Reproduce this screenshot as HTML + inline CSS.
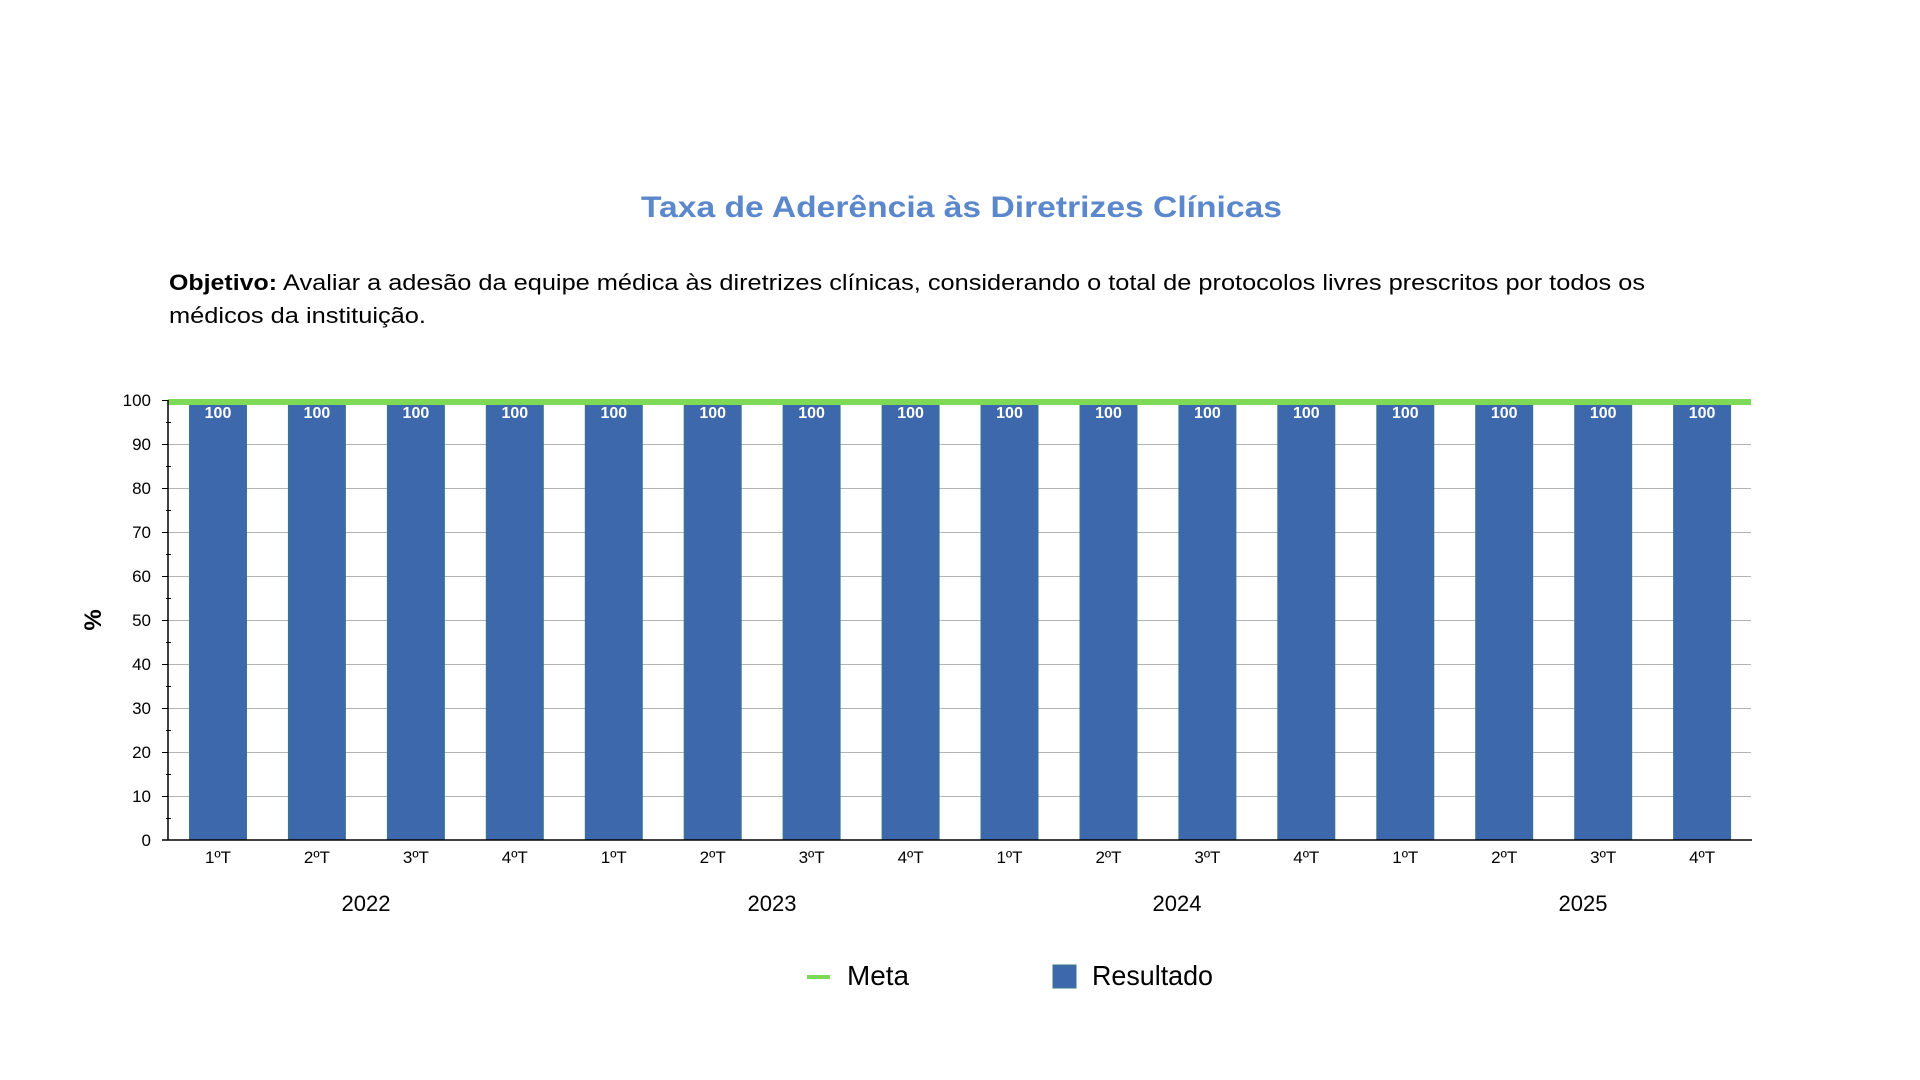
<!DOCTYPE html>
<html>
<head>
<meta charset="utf-8">
<style>
html,body{margin:0;padding:0;background:#fff;}
svg{display:block;}
text{font-family:"Liberation Sans",Arial,sans-serif;}
</style>
</head>
<body>
<svg width="1920" height="1080" viewBox="0 0 1920 1080" xmlns="http://www.w3.org/2000/svg">
<rect width="1920" height="1080" fill="#ffffff"/>
<!-- Title -->
<text x="641" y="217" font-size="30" font-weight="bold" fill="#5b87cc" textLength="641" lengthAdjust="spacingAndGlyphs">Taxa de Aderência às Diretrizes Clínicas</text>
<!-- Objective -->
<text x="169" y="290" font-size="22" font-weight="bold" fill="#000" textLength="108" lengthAdjust="spacingAndGlyphs">Objetivo:</text>
<text x="283" y="290" font-size="22" fill="#000" textLength="1362" lengthAdjust="spacingAndGlyphs">Avaliar a adesão da equipe médica às diretrizes clínicas, considerando o total de protocolos livres prescritos por todos os</text>
<text x="169" y="323" font-size="22" fill="#000" textLength="257" lengthAdjust="spacingAndGlyphs">médicos da instituição.</text>

<!-- gridlines -->
<g stroke="#b4b4b4" stroke-width="1">
<line x1="168" y1="444.5" x2="1751" y2="444.5"/>
<line x1="168" y1="488.5" x2="1751" y2="488.5"/>
<line x1="168" y1="532.5" x2="1751" y2="532.5"/>
<line x1="168" y1="576.5" x2="1751" y2="576.5"/>
<line x1="168" y1="620.5" x2="1751" y2="620.5"/>
<line x1="168" y1="664.5" x2="1751" y2="664.5"/>
<line x1="168" y1="708.5" x2="1751" y2="708.5"/>
<line x1="168" y1="752.5" x2="1751" y2="752.5"/>
<line x1="168" y1="796.5" x2="1751" y2="796.5"/>
</g>

<!-- bars -->
<g fill="#3d68ac" stroke="#3a7688" stroke-width="1">
<rect x="189.5" y="400" width="57" height="440"/>
<rect x="288.4" y="400" width="57" height="440"/>
<rect x="387.4" y="400" width="57" height="440"/>
<rect x="486.3" y="400" width="57" height="440"/>
<rect x="585.3" y="400" width="57" height="440"/>
<rect x="684.2" y="400" width="57" height="440"/>
<rect x="783.1" y="400" width="57" height="440"/>
<rect x="882.1" y="400" width="57" height="440"/>
<rect x="981.0" y="400" width="57" height="440"/>
<rect x="1080.0" y="400" width="57" height="440"/>
<rect x="1178.9" y="400" width="57" height="440"/>
<rect x="1277.8" y="400" width="57" height="440"/>
<rect x="1376.8" y="400" width="57" height="440"/>
<rect x="1475.7" y="400" width="57" height="440"/>
<rect x="1574.7" y="400" width="57" height="440"/>
<rect x="1673.6" y="400" width="57" height="440"/>
</g>

<!-- data labels -->
<g font-size="16" font-weight="bold" fill="#ffffff" text-anchor="middle">
<text x="218.0" y="418">100</text>
<text x="316.9" y="418">100</text>
<text x="415.9" y="418">100</text>
<text x="514.8" y="418">100</text>
<text x="613.8" y="418">100</text>
<text x="712.7" y="418">100</text>
<text x="811.6" y="418">100</text>
<text x="910.6" y="418">100</text>
<text x="1009.5" y="418">100</text>
<text x="1108.5" y="418">100</text>
<text x="1207.4" y="418">100</text>
<text x="1306.3" y="418">100</text>
<text x="1405.3" y="418">100</text>
<text x="1504.2" y="418">100</text>
<text x="1603.2" y="418">100</text>
<text x="1702.1" y="418">100</text>
</g>

<!-- Meta line -->
<line x1="168" y1="402" x2="1751" y2="402" stroke="#7ed957" stroke-width="6"/>

<!-- axes -->
<line x1="168" y1="400" x2="168" y2="840.5" stroke="#000" stroke-width="1.5"/>
<line x1="162" y1="840" x2="1752" y2="840" stroke="#000" stroke-width="1.5"/>
<g stroke="#000" stroke-width="1">
<line x1="162" y1="400.5" x2="168" y2="400.5"/>
<line x1="162" y1="444.5" x2="168" y2="444.5"/>
<line x1="162" y1="488.5" x2="168" y2="488.5"/>
<line x1="162" y1="532.5" x2="168" y2="532.5"/>
<line x1="162" y1="576.5" x2="168" y2="576.5"/>
<line x1="162" y1="620.5" x2="168" y2="620.5"/>
<line x1="162" y1="664.5" x2="168" y2="664.5"/>
<line x1="162" y1="708.5" x2="168" y2="708.5"/>
<line x1="162" y1="752.5" x2="168" y2="752.5"/>
<line x1="162" y1="796.5" x2="168" y2="796.5"/>
<line x1="166" y1="422.5" x2="171" y2="422.5"/>
<line x1="166" y1="466.5" x2="171" y2="466.5"/>
<line x1="166" y1="510.5" x2="171" y2="510.5"/>
<line x1="166" y1="554.5" x2="171" y2="554.5"/>
<line x1="166" y1="598.5" x2="171" y2="598.5"/>
<line x1="166" y1="642.5" x2="171" y2="642.5"/>
<line x1="166" y1="686.5" x2="171" y2="686.5"/>
<line x1="166" y1="730.5" x2="171" y2="730.5"/>
<line x1="166" y1="774.5" x2="171" y2="774.5"/>
<line x1="166" y1="818.5" x2="171" y2="818.5"/>
</g>

<!-- y tick labels -->
<g font-size="17" fill="#000" text-anchor="end">
<text x="151" y="406">100</text>
<text x="151" y="450">90</text>
<text x="151" y="494">80</text>
<text x="151" y="538">70</text>
<text x="151" y="582">60</text>
<text x="151" y="626">50</text>
<text x="151" y="670">40</text>
<text x="151" y="714">30</text>
<text x="151" y="758">20</text>
<text x="151" y="802">10</text>
<text x="151" y="846">0</text>
</g>
<text x="0" y="0" font-size="24" font-weight="bold" fill="#000" text-anchor="middle" transform="translate(101,620) rotate(-90)">%</text>

<!-- x tick labels -->
<g font-size="17" fill="#000" text-anchor="middle">
<text x="218.0" y="863">1ºT</text>
<text x="316.9" y="863">2ºT</text>
<text x="415.9" y="863">3ºT</text>
<text x="514.8" y="863">4ºT</text>
<text x="613.8" y="863">1ºT</text>
<text x="712.7" y="863">2ºT</text>
<text x="811.6" y="863">3ºT</text>
<text x="910.6" y="863">4ºT</text>
<text x="1009.5" y="863">1ºT</text>
<text x="1108.5" y="863">2ºT</text>
<text x="1207.4" y="863">3ºT</text>
<text x="1306.3" y="863">4ºT</text>
<text x="1405.3" y="863">1ºT</text>
<text x="1504.2" y="863">2ºT</text>
<text x="1603.2" y="863">3ºT</text>
<text x="1702.1" y="863">4ºT</text>
</g>
<g font-size="22" fill="#000" text-anchor="middle">
<text x="366" y="911">2022</text>
<text x="772" y="911">2023</text>
<text x="1177" y="911">2024</text>
<text x="1583" y="911">2025</text>
</g>

<!-- legend -->
<line x1="807" y1="977" x2="830" y2="977" stroke="#7ed957" stroke-width="4"/>
<text x="847" y="985" font-size="28" fill="#000" textLength="62" lengthAdjust="spacingAndGlyphs">Meta</text>
<rect x="1053" y="965" width="23" height="23" fill="#3d68ac" stroke="#3a7688" stroke-width="1"/>
<text x="1092" y="985" font-size="28" fill="#000" textLength="121" lengthAdjust="spacingAndGlyphs">Resultado</text>
</svg>
</body>
</html>
